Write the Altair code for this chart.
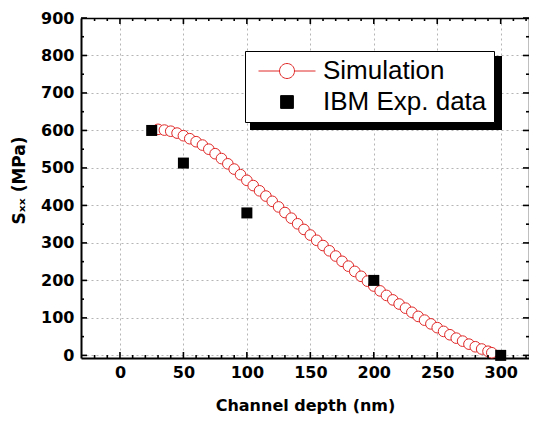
import altair as alt
import pandas as pd

# ---------------- data ----------------
sim_depth = [30, 35, 40, 45, 50, 55, 60, 65, 70, 75, 80, 85, 90, 95, 100,
             105, 110, 115, 120, 125, 130, 135, 140, 145, 150, 155, 160, 165,
             170, 175, 180, 185, 190, 195, 200, 205, 210, 215, 220, 225, 230,
             235, 240, 245, 250, 255, 260, 265, 270, 275, 280, 285, 290, 293]
sim_stress = [603, 601, 598, 593, 586, 578, 570, 561, 550, 538, 525, 511, 497,
              482, 467, 453, 439, 425, 411, 396, 381, 366, 351, 336, 321, 307,
              293, 279, 265, 251, 238, 224, 211, 198, 185, 172, 160, 148, 137,
              126, 115, 104, 94, 84, 74, 64, 55, 46, 38, 30, 23, 17, 11, 7]

exp_depth = [25, 50, 100, 200, 300]
exp_stress = [600, 513, 380, 200, 0]

series_names = ["Simulation", "IBM Exp. data"]

x_ticks = [0, 50, 100, 150, 200, 250, 300]
y_ticks = [0, 100, 200, 300, 400, 500, 600, 700, 800, 900]
x_minor = [-20, -10, 10, 20, 30, 40, 60, 70, 80, 90, 110, 120, 130, 140, 160,
           170, 180, 190, 210, 220, 230, 240, 260, 270, 280, 290, 310, 320]
y_minor = [50, 150, 250, 350, 450, 550, 650, 750, 850]

# ---------------- layout constants ----------------
W, H = 448, 340
RED = "#e02828"
TICK_FONT = "DejaVu Sans"

sim_df = pd.DataFrame({"depth": sim_depth, "stress": sim_stress,
                       "series": series_names[0]})
exp_df = pd.DataFrame({"depth": exp_depth, "stress": exp_stress,
                       "series": series_names[1]})
legend_df = pd.DataFrame({"depth": [0, 0], "stress": [0, 0],
                          "series": series_names})

xscale = alt.Scale(domain=[-30.7, 322.3], nice=False, zero=False)
yscale = alt.Scale(domain=[-7, 900], nice=False, zero=False)

GRID = dict(grid=True, gridColor="#b5b5b5", gridDash=[2, 3], gridWidth=1)
LAB = dict(labelFont=TICK_FONT, labelFontWeight="bold", labelFontSize=16,
           labelColor="black", ticks=False, tickSize=0, domain=True,
           domainColor="black", domainWidth=2)
TIT = dict(titleFont=TICK_FONT, titleFontWeight="bold", titleColor="black",
           titleBaseline="middle")

# main layer: simulation circles with labelled axes and grid
sim_layer = alt.Chart(sim_df).mark_point(
    shape="circle", filled=True, fill="white", stroke=RED,
    strokeWidth=1, size=113, opacity=1
).encode(
    x=alt.X("depth:Q", scale=xscale, axis=alt.Axis(
        orient="bottom", values=x_ticks, title="Channel depth (nm)",
        labelPadding=6, titleFontSize=16, titleY=47, **GRID, **LAB, **TIT)),
    y=alt.Y("stress:Q", scale=yscale, axis=alt.Axis(
        orient="left", values=y_ticks, title="Sₓₓ (MPa)",
        labelPadding=7, titleFontSize=17, titleX=-62, titleY=162,
        titleAngle=270, **GRID, **LAB, **TIT)),
)

# experimental squares
exp_layer = alt.Chart(exp_df).mark_square(
    size=121, color="black", opacity=1
).encode(
    x=alt.X("depth:Q", scale=xscale, axis=None),
    y=alt.Y("stress:Q", scale=yscale, axis=None),
)

# legend carrier (no marks drawn)
path_sim = "M-3.8,0L-1,0M1,0L3.8,0M-1,0A1,1,0,1,1,1,0A1,1,0,1,1,-1,0Z"
path_sq = "M-0.85,-0.85L0.85,-0.85L0.85,0.85L-0.85,0.85Z"
leg = alt.Legend(orient="none", legendX=164, legendY=33, title=None,
                 labelFont="Liberation Sans", labelFontSize=26,
                 labelColor="black", labelLimit=400, padding=7, rowPadding=5,
                 symbolSize=225, symbolStrokeWidth=1, symbolOffset=22,
                 labelOffset=23, strokeColor="black", fillColor="white",
                 symbolOpacity=1)
legend_layer = alt.Chart(legend_df).transform_filter(
    "datum.depth > 100000"
).mark_point(filled=True, size=225, opacity=1).encode(
    x=alt.X("depth:Q", scale=xscale, axis=None),
    y=alt.Y("stress:Q", scale=yscale, axis=None),
    shape=alt.Shape("series:N", scale=alt.Scale(domain=series_names,
                    range=[path_sim, path_sq]), legend=leg),
    fill=alt.Fill("series:N", scale=alt.Scale(domain=series_names,
                  range=["white", "black"]), legend=leg),
    stroke=alt.Stroke("series:N", scale=alt.Scale(domain=series_names,
                      range=[RED, "black"]), legend=leg),
)

# top / right frame lines (axes with domain only)
frame = alt.Chart(exp_df).transform_filter(
    "datum.depth > 100000"
).mark_point(opacity=0).encode(
    x=alt.X("depth:Q", scale=xscale, axis=alt.Axis(
        orient="bottom", offset=-H, title=None, labels=False, ticks=False,
        grid=False, domain=True, domainColor="black", domainWidth=1.5)),
    y=alt.Y("stress:Q", scale=yscale, axis=alt.Axis(
        orient="left", offset=-W, title=None, labels=False, ticks=False,
        grid=False, domain=True, domainColor="black", domainWidth=1.5)),
)


# inward tick marks on all four sides, placed by the scales
def xticks(values, length, top):
    y0, y1 = (0, length) if top else (H, H - length)
    return alt.Chart(pd.DataFrame({"v": values})).mark_rule(
        color="black", strokeWidth=1.6, opacity=1
    ).encode(x=alt.X("v:Q", scale=xscale, axis=None),
             y=alt.value(y0), y2=alt.value(y1))


def yticks(values, length, right):
    x0, x1 = (W, W - length) if right else (0, length)
    return alt.Chart(pd.DataFrame({"v": values})).mark_rule(
        color="black", strokeWidth=1.6, opacity=1
    ).encode(y=alt.Y("v:Q", scale=yscale, axis=None),
             x=alt.value(x0), x2=alt.value(x1))


tick_layers = [xticks(x_ticks, 6, False), xticks(x_minor, 3, False),
               xticks(x_ticks, 6, True), xticks(x_minor, 3, True),
               yticks(y_ticks, 6, False), yticks(y_minor, 3, False),
               yticks(y_ticks, 6, True), yticks(y_minor, 3, True)]

# legend drop shadow
shadow = alt.Chart(pd.DataFrame({"k": [0]})).mark_rect(color="black").encode(
    x=alt.value(169), x2=alt.value(421), y=alt.value(38), y2=alt.value(112)
)

chart = alt.layer(
    sim_layer, frame, *tick_layers, exp_layer, legend_layer, shadow
).resolve_axis(
    x="independent", y="independent"
).properties(
    width=W, height=H,
    autosize=alt.AutoSizeParams(type="none"),
    padding={"left": 73, "top": 10, "right": 0, "bottom": 56},
    background="white",
).configure_view(strokeWidth=0)

chart.save("out.html", embed_options={"renderer": "svg", "actions": False})
